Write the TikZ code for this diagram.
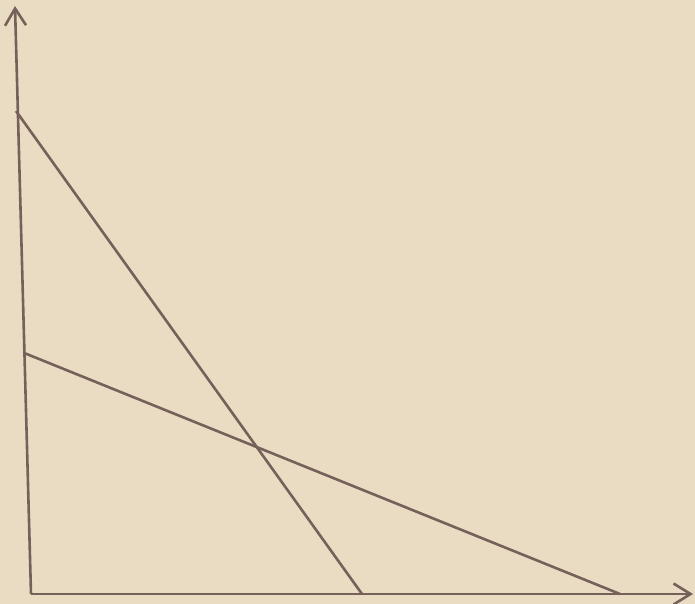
\documentclass[tikz,border=0pt]{standalone}
\usepackage{tikz}
\usetikzlibrary{arrows.meta}
\definecolor{paper}{HTML}{E9DCC3}
\definecolor{ink}{HTML}{76605A}
\tikzset{
  every picture/.style={line width=2.6pt,draw=ink},
  ax/.style={-{Straight Barb[length=17pt,width=21pt,line width=2.6pt]},draw=ink},
  ln/.style={draw=ink},
}
\begin{document}
\begin{tikzpicture}[x=1pt,y=-1pt]
  \fill[paper] (0,0) rectangle (695,604);
  \useasboundingbox (0,0) rectangle (695,604);
  \coordinate (o) at (31,594);
  \coordinate (ytop) at (15,6);
  \coordinate (xend) at (693,594);
  \coordinate (a1) at (16,111);
  \coordinate (a2) at (362,594);
  \coordinate (b1) at (24.2,353);
  \coordinate (b2) at (620,594);
  \draw[ax] (o) -- (ytop);
  \draw[ax] (o) -- (xend);
  \draw[ln] (a1) -- (a2);
  \draw[ln] (b1) -- (b2);
\end{tikzpicture}
\end{document}
